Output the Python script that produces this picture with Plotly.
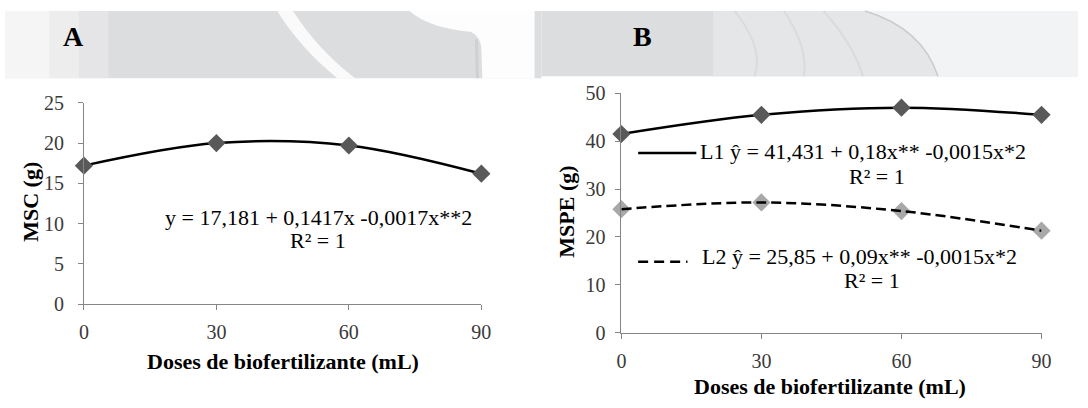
import plotly.graph_objects as go

W, H = 1088, 408

# ---- data ----
doses = [0, 30, 60, 90]
msc = [17.2, 20.0, 19.7, 16.2]
mspe_l1 = [41.5, 45.5, 47.0, 45.5]
mspe_l2 = [25.8, 27.2, 25.4, 21.3]
ytick_a = [0, 5, 10, 15, 20, 25]
ytick_b = [0, 10, 20, 30, 40, 50]
xtick_labels = ["0", "30", "60", "90"]

FONT = "Liberation Serif"
AX = "#868686"
TXT = "#3a3a3a"


def px(x):
    return x / W


def py(y):
    return 1 - y / H


def path(pts_cmds):
    out = []
    for c in pts_cmds:
        if isinstance(c, str):
            out.append(c)
        else:
            out.append(f"{px(c[0]):.5f},{py(c[1]):.5f}")
    return " ".join(out)


fig = go.Figure()

fig.add_trace(go.Scatter(
    x=doses, y=msc, mode="lines+markers", xaxis="x", yaxis="y",
    line=dict(color="black", width=2.5, shape="spline"),
    marker=dict(symbol="diamond", size=14, color="#595959"),
    cliponaxis=False, showlegend=False))

fig.add_trace(go.Scatter(
    x=doses, y=mspe_l1, mode="lines+markers", xaxis="x2", yaxis="y2",
    line=dict(color="black", width=2.5, shape="spline"),
    marker=dict(symbol="diamond", size=14, color="#595959"),
    cliponaxis=False, showlegend=False))

fig.add_trace(go.Scatter(
    x=doses, y=mspe_l2, mode="markers", xaxis="x2", yaxis="y2",
    marker=dict(symbol="diamond", size=14, color="#a8a8a8"),
    cliponaxis=False, showlegend=False))
fig.add_trace(go.Scatter(
    x=doses, y=mspe_l2, mode="lines", xaxis="x2", yaxis="y2",
    line=dict(color="black", width=2.5, shape="spline", dash="10px,5px"),
    cliponaxis=False, showlegend=False))

axis_common = dict(showline=True, linecolor=AX, linewidth=1, ticks="outside",
                   ticklen=5, tickcolor=AX, showgrid=False, zeroline=False,
                   tickfont=dict(family=FONT, size=20, color=TXT))

fig.update_layout(
    width=W, height=H, margin=dict(l=0, r=0, t=0, b=0),
    paper_bgcolor="white", plot_bgcolor="rgba(0,0,0,0)",
    xaxis=dict(domain=[px(80), px(483)], range=[0, 90], tickvals=doses,
               ticktext=xtick_labels, anchor="y", ticklabelstandoff=5, **axis_common),
    yaxis=dict(domain=[py(310), py(97)], range=[0, 25], tickvals=ytick_a,
               anchor="x", ticklabelstandoff=10, **axis_common),
    xaxis2=dict(domain=[px(625), px(1051)], range=[0, 90], tickvals=doses,
                ticktext=xtick_labels, anchor="y2", ticklabelstandoff=5, **axis_common),
    yaxis2=dict(domain=[py(340), py(87)], range=[0, 50], tickvals=ytick_b,
                anchor="x2", ticklabelstandoff=6, **axis_common),
)

# ---- watermark-like header band ----
shapes = []
shapes.append(dict(type="rect", xref="paper", yref="paper", x0=px(0), x1=px(544),
                   y0=py(71), y1=py(0), fillcolor="#dcdddf", line_width=0, layer="below"))
shapes.append(dict(type="rect", xref="paper", yref="paper", x0=px(544), x1=px(1088),
                   y0=py(69), y1=py(0), fillcolor="#dcdddf", line_width=0, layer="below"))
for x1, op in [(105, 0.25), (75, 0.3), (45, 0.45)]:
    shapes.append(dict(type="rect", xref="paper", yref="paper", x0=px(0), x1=px(x1),
                       y0=py(71), y1=py(0), fillcolor="white", opacity=op,
                       line_width=0, layer="below"))
shapes.append(dict(type="path", xref="paper", yref="paper", layer="below",
                   path=path(["M", (276, 0), "L", (292, 0), "Q", (318, 42), (355, 71),
                              "L", (337, 71), "Q", (300, 40), (276, 0), "Z"]),
                   fillcolor="white", opacity=0.85, line_width=0))
shapes.append(dict(type="path", xref="paper", yref="paper", layer="below",
                   path=path(["M", (410, 0), "Q", (430, 18), (472, 22), "Q", (482, 26), (483, 40),
                              "L", (484, 71), "L", (537, 71), "L", (537, 0), "Z"]),
                   fillcolor="white", opacity=0.92, line_width=0))
shapes.append(dict(type="line", xref="paper", yref="paper", layer="below",
                   x0=px(478), x1=px(479), y0=py(30), y1=py(71),
                   line=dict(color="#cfd0d2", width=3)))
shapes.append(dict(type="rect", xref="paper", yref="paper", x0=px(718), x1=px(1088),
                   y0=py(69), y1=py(0), fillcolor="#e4e6e8", line_width=0, layer="below"))
for (a, b, c) in [((740, 0), (770, 40), (760, 69)), ((790, 0), (815, 40), (810, 69)),
                  ((830, 0), (860, 35), (870, 69))]:
    shapes.append(dict(type="path", xref="paper", yref="paper", layer="below",
                       path=path(["M", a, "Q", b, c]),
                       line=dict(color="#d9dbdd", width=2)))
shapes.append(dict(type="path", xref="paper", yref="paper", layer="below",
                   path=path(["M", (872, 0), "Q", (930, 18), (946, 69),
                              "L", (1088, 69), "L", (1088, 0), "Z"]),
                   fillcolor="#f1f3f4", line_width=0))
shapes.append(dict(type="path", xref="paper", yref="paper", layer="below",
                   path=path(["M", (872, 0), "Q", (930, 18), (946, 69)]),
                   line=dict(color="#c9cbcd", width=1.5)))

# legend samples (panel B)
shapes.append(dict(type="line", xref="paper", yref="paper", x0=px(642), x1=px(701),
                   y0=py(150), y1=py(150), line=dict(color="black", width=2.5)))
shapes.append(dict(type="line", xref="paper", yref="paper", x0=px(642), x1=px(692),
                   y0=py(265), y1=py(265), line=dict(color="black", width=2.5, dash="10px,6px")))
fig.update_layout(shapes=shapes)

ann = []


def add_text(text, x, y, size=19, bold=False, xanchor="center", yanchor="middle", angle=0):
    ann.append(dict(text=f"<b>{text}</b>" if bold else text, x=px(x), y=py(y),
                    xref="paper", yref="paper", showarrow=False, xanchor=xanchor,
                    yanchor=yanchor, textangle=angle,
                    font=dict(family=FONT, size=size, color="black")))


add_text("A", 69, 27, size=28, bold=True)
add_text("B", 646, 27, size=28, bold=True)
add_text("Doses de biofertilizante (mL)", 282, 370, size=22, bold=True)
add_text("Doses de biofertilizante (mL)", 837, 397, size=22, bold=True)
add_text("MSC (g)", 25, 202, size=22, bold=True, angle=-90)
add_text("MSPE (g)", 569, 212, size=22, bold=True, angle=-90)
add_text("y = 17,181 + 0,1417x -0,0017x**2", 318, 218, size=22)
add_text("R² = 1", 317, 243, size=22)
add_text("L1 ŷ = 41,431 + 0,18x** -0,0015x*2", 703, 149, size=22, xanchor="left")
add_text("R² = 1", 884, 175, size=22)
add_text("L2 ŷ = 25,85 + 0,09x** -0,0015x*2", 705, 259, size=22, xanchor="left")
add_text("R² = 1", 879, 285, size=22)
fig.update_layout(annotations=ann)

fig.write_html("out.html", config={"displayModeBar": False},
               post_script="document.body.style.margin='0';document.body.style.overflow='hidden';")
